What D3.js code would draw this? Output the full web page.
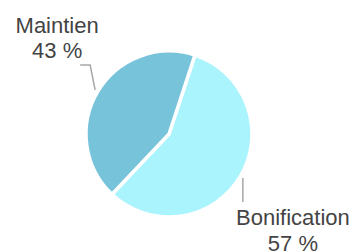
<!DOCTYPE html>
<html>
<head>
<meta charset="utf-8">
<script src="https://cdn.jsdelivr.net/npm/d3@7"></script>
<style>
  body { margin: 0; background: #fff; }
  text { font-family: "Liberation Sans", Arial, sans-serif; }
</style>
</head>
<body>
<div id="chart"></div>
<script>
// chart data
const categories = ["Bonification", "Maintien"];
const values = [57, 43];
const colors = ["#aaf4fe", "#77c3da"];

const width = 356, height = 252;
const cx = 169, cy = 134, radius = 83;

// label layout per slice: elbow offset, end offset, text anchor offset (from slice edge point)
const labelLayout = {
    "Bonification": {elbow: [0, 24], end: [0, 24], text: [50, 47]},
    "Maintien": {elbow: [-5, -25], end: [-15, -25], text: [-38, -57]}
};

let svg = d3.select("#chart").append("svg")
    .attr("width", width)
    .attr("height", height);

let g = svg.append("g")
    .attr("transform", `translate(${cx}, ${cy})`);

let startAngle = 18.2 * Math.PI / 180;
let pie = d3.pie()
    .sort(null)
    .startAngle(startAngle)
    .endAngle(startAngle + 2 * Math.PI)
    .value(d => d.value);

let data = categories.map((c, i) => ({name: c, value: values[i], color: colors[i]}));
let arcs = pie(data);

let arc = d3.arc().innerRadius(0).outerRadius(radius);
let edgeArc = d3.arc().innerRadius(radius + 3).outerRadius(radius + 3);

g.selectAll(".slice")
    .data(arcs)
    .enter().append("path")
    .attr("class", "slice")
    .attr("d", arc)
    .attr("fill", d => d.data.color)
    .attr("stroke", "#fff")
    .attr("stroke-width", 3.5)
    .attr("stroke-linejoin", "round");

// leader lines
g.selectAll(".leader")
    .data(arcs)
    .enter().append("polyline")
    .attr("class", "leader")
    .attr("fill", "none")
    .attr("stroke", "#a6a6a6")
    .attr("stroke-width", 1.5)
    .attr("points", d => {
        let p = edgeArc.centroid(d);
        let l = labelLayout[d.data.name];
        return [p, [p[0] + l.elbow[0], p[1] + l.elbow[1]], [p[0] + l.end[0], p[1] + l.end[1]]]
            .map(q => q.join(",")).join(" ");
    });

// labels
let labels = g.selectAll(".label")
    .data(arcs)
    .enter().append("text")
    .attr("class", "label")
    .attr("text-anchor", "middle")
    .attr("fill", "#444")
    .style("font-size", "22px")
    .attr("transform", d => {
        let p = edgeArc.centroid(d);
        let l = labelLayout[d.data.name];
        return `translate(${p[0] + l.text[0]}, ${p[1] + l.text[1]})`;
    });

labels.append("tspan")
    .attr("x", 0)
    .attr("y", 0)
    .text(d => d.data.name);

labels.append("tspan")
    .attr("x", 0)
    .attr("y", 25.5)
    .text(d => d.data.value + " %");
</script>
</body>
</html>
